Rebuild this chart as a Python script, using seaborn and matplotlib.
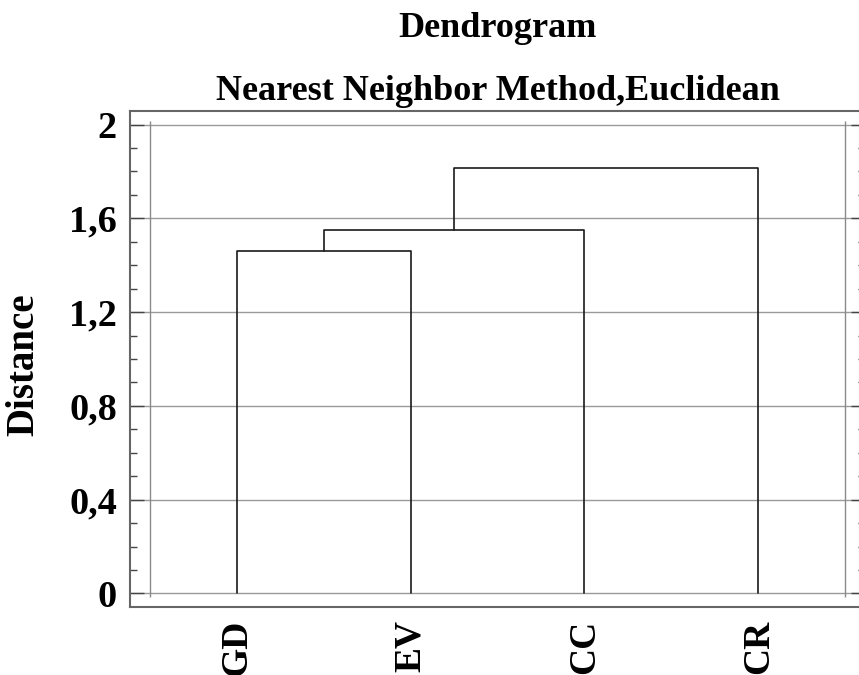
import matplotlib
matplotlib.use("Agg")
import matplotlib.pyplot as plt
import seaborn as sns
import pandas as pd
import numpy as np
from matplotlib.ticker import MultipleLocator, FixedLocator

# ---- data ----
leaves = ["GD", "EV", "CC", "CR"]
merge_pairs = [("GD", "EV"), ("GD+EV", "CC"), ("GD+EV+CC", "CR")]
merge_heights = [1.462, 1.549, 1.815]
ytick_vals = [0, 0.4, 0.8, 1.2, 1.6, 2.0]
ytick_labels = ["0", "0,4", "0,8", "1,2", "1,6", "2"]
title_line1 = "Dendrogram"
title_line2 = "Nearest Neighbor Method,Euclidean"
ylabel = "Distance"

# ---- build dendrogram link segments ----
pos = {name: (i + 1, 0.0) for i, name in enumerate(leaves)}
rows = []
for k, ((a, b), h) in enumerate(zip(merge_pairs, merge_heights)):
    xa, ha = pos[a]
    xb, hb = pos[b]
    for x, y in [(xa, ha), (xa, h), (xb, h), (xb, hb)]:
        rows.append({"link": k, "x": x, "y": y})
    pos[a + "+" + b] = ((xa + xb) / 2, h)
seg = pd.DataFrame(rows)

# ---- style ----
sns.set_style("white")
plt.rcParams["font.family"] = ["Liberation Serif", "DejaVu Serif"]
plt.rcParams["font.weight"] = "bold"
plt.rcParams["text.color"] = "black"
plt.rcParams["axes.labelcolor"] = "black"

W, H = 859, 675
fig = plt.figure(figsize=(W / 100, H / 100), dpi=100)
ax = fig.add_axes([130 / W, (H - 607) / H, (865 - 130) / W, (607 - 111) / H])

sns.lineplot(data=seg, x="x", y="y", units="link", estimator=None, sort=False,
             color="#1a1a1a", linewidth=1.2, ax=ax, legend=False)

ax.set_xlim(0.386, 4.614)
ax.set_ylim(-0.058, 2.058)

# inner frame lines
ax.vlines([0.5, 4.5], -0.016, 2.017, colors="#8a8a8a", linewidth=1.0, zorder=1)

# grid
ax.yaxis.set_major_locator(FixedLocator(ytick_vals))
ax.yaxis.set_minor_locator(MultipleLocator(0.1))
ax.set_yticklabels(ytick_labels)
ax.grid(axis="y", which="major", color="#9a9a9a", linewidth=1.0)
ax.grid(axis="x", visible=False)
ax.set_axisbelow(True)

ax.set_xticks(range(1, len(leaves) + 1))
ax.set_xticklabels(leaves, rotation=90)

ax.tick_params(axis="y", which="major", direction="in", length=10, width=1.0,
               color="#444444", labelcolor="black", left=True, right=True,
               labelsize=27.5, pad=9.4)
ax.tick_params(axis="y", which="minor", direction="in", length=5, width=1.0,
               color="#444444", left=True, right=True)
ax.tick_params(axis="x", which="both", length=0, labelsize=27, pad=9.0,
               labelcolor="black")
for lab in ax.get_xticklabels() + ax.get_yticklabels():
    lab.set_fontweight("bold")

for s in ax.spines.values():
    s.set_color("#666666")
    s.set_linewidth(1.5)

ax.set_xlabel("")
ax.set_ylabel(ylabel, fontsize=28, fontweight="bold", va="center", ha="center",
              color="black")
ax.yaxis.set_label_coords(-(130 - 24) / 735, (607 - 365) / 496)

cx = (130 + 865) / 2 / W
fig.text(cx, 1 - 37 / H, title_line1, ha="center", va="baseline",
         fontsize=26, fontweight="bold", color="black")
fig.text(cx, 1 - 100 / H, title_line2, ha="center", va="baseline",
         fontsize=26, fontweight="bold", color="black")

fig.savefig("out.png", dpi=100)
